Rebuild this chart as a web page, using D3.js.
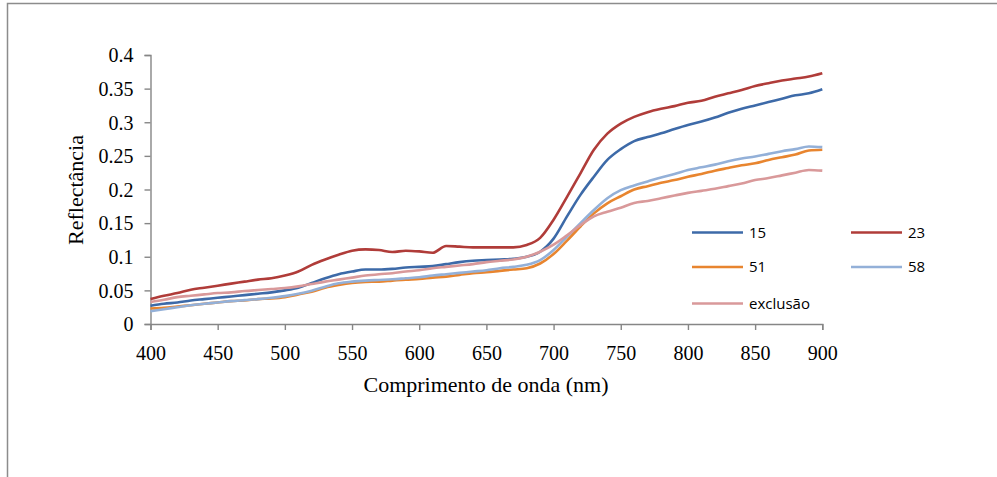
<!DOCTYPE html>
<html>
<head>
<meta charset="utf-8">
<script src="https://cdn.jsdelivr.net/npm/d3@7"></script>
<style>
  html, body { margin: 0; padding: 0; background: #fff; }
  svg { display: block; }
</style>
</head>
<body>
<div id="chart"></div>
<script>
// Reflectance spectra (400–900 nm, every 10 nm)

const wavelengths = d3.range(400, 901, 10);

const s15 = [0.027, 0.030, 0.032, 0.035, 0.037, 0.039, 0.041, 0.043, 0.045, 0.047,
  0.050, 0.054, 0.061, 0.068, 0.074, 0.078, 0.081, 0.081, 0.082, 0.084,
  0.085, 0.086, 0.089, 0.092, 0.094, 0.095, 0.096, 0.097, 0.100, 0.1075,
  0.127, 0.160, 0.192, 0.219, 0.244, 0.260, 0.272, 0.278, 0.2835, 0.290,
  0.296, 0.301, 0.307, 0.314, 0.320, 0.325, 0.330, 0.335, 0.340, 0.343, 0.349];

const s23 = [0.037, 0.042, 0.046, 0.051, 0.054, 0.057, 0.060, 0.063, 0.066, 0.068,
  0.072, 0.078, 0.088, 0.096, 0.103, 0.109, 0.111, 0.110, 0.107, 0.109,
  0.108, 0.106, 0.116, 0.115, 0.114, 0.114, 0.114, 0.114, 0.1175, 0.128,
  0.155, 0.189, 0.224, 0.259, 0.283, 0.298, 0.308, 0.315, 0.320, 0.324,
  0.329, 0.332, 0.338, 0.343, 0.348, 0.354, 0.358, 0.362, 0.365, 0.368, 0.373];

const s51 = [0.023, 0.024, 0.026, 0.028, 0.030, 0.032, 0.034, 0.035, 0.037, 0.038,
  0.040, 0.044, 0.048, 0.054, 0.058, 0.061, 0.0625, 0.063, 0.0645, 0.066,
  0.067, 0.069, 0.0705, 0.073, 0.0755, 0.077, 0.079, 0.081, 0.083, 0.090,
  0.104, 0.124, 0.145, 0.1645, 0.1795, 0.190, 0.200, 0.205, 0.210, 0.214,
  0.219, 0.223, 0.228, 0.232, 0.236, 0.239, 0.244, 0.248, 0.252, 0.258, 0.259];

const s58 = [0.019, 0.022, 0.025, 0.028, 0.030, 0.032, 0.034, 0.0355, 0.037, 0.039,
  0.0415, 0.045, 0.0495, 0.0555, 0.0605, 0.063, 0.0645, 0.0655, 0.0665, 0.068,
  0.0695, 0.072, 0.074, 0.076, 0.078, 0.080, 0.083, 0.085, 0.088, 0.095,
  0.110, 0.130, 0.150, 0.1695, 0.187, 0.199, 0.206, 0.212, 0.218, 0.223,
  0.229, 0.233, 0.237, 0.242, 0.246, 0.249, 0.253, 0.257, 0.260, 0.264, 0.263];

const sExclusao = [0.0327, 0.036, 0.040, 0.042, 0.044, 0.046, 0.047, 0.049, 0.0505, 0.052,
  0.0535, 0.056, 0.0595, 0.063, 0.066, 0.069, 0.072, 0.074, 0.0755, 0.078,
  0.080, 0.083, 0.085, 0.087, 0.089, 0.092, 0.094, 0.096, 0.100, 0.1075,
  0.118, 0.132, 0.147, 0.160, 0.167, 0.173, 0.180, 0.183, 0.187, 0.191,
  0.195, 0.198, 0.201, 0.205, 0.209, 0.214, 0.217, 0.221, 0.225, 0.229, 0.228];

const seriesNames = ["15", "23", "51", "58", "exclusão"];
const seriesValues = [s15, s23, s51, s58, sExclusao];
const seriesColors = ["#3d6aa8", "#b03c39", "#e8852f", "#93b0d8", "#d9999a"];

const xTicks = d3.range(400, 901, 50);
const yTicks = [0, 0.05, 0.1, 0.15, 0.2, 0.25, 0.3, 0.35, 0.4];

const width = 997, height = 477;
const axisColor = "#868686";

const svg = d3.select("#chart").append("svg")
    .attr("width", width)
    .attr("height", height);

// outer frame (top and left edges visible)
svg.append("path")
    .attr("d", `M7.5,${height} V3.5 H${width}`)
    .attr("fill", "none")
    .attr("stroke", "#8c8c8c")
    .attr("stroke-width", 1.5);

const x = d3.scaleLinear().domain([400, 900]).range([150.5, 822.3]);
const y = d3.scaleLinear().domain([0, 0.4]).range([324, 55]);

// y axis
const yAxis = svg.append("g")
    .attr("transform", `translate(${x(400)},0)`)
    .call(d3.axisLeft(y).tickValues(yTicks).tickSize(6).tickPadding(11)
        .tickFormat(d => d === 0 ? "0" : String(+d.toFixed(2))));

// x axis
const xAxis = svg.append("g")
    .attr("transform", `translate(0,${y(0)})`)
    .call(d3.axisBottom(x).tickValues(xTicks).tickSize(6).tickPadding(16));

[xAxis, yAxis].forEach(g => {
  g.select(".domain").attr("stroke", axisColor).attr("stroke-width", 1.4);
  g.selectAll(".tick line").attr("stroke", axisColor).attr("stroke-width", 1.4);
  g.selectAll(".tick text")
      .attr("fill", "#000")
      .style("font-family", "'Liberation Serif', 'Times New Roman', serif")
      .style("font-size", "20px");
});
yAxis.selectAll(".tick text").attr("dy", "0.34em");

// axis titles
svg.append("text")
    .attr("x", 486)
    .attr("y", 392)
    .attr("text-anchor", "middle")
    .style("font-family", "'Liberation Serif', 'Times New Roman', serif")
    .style("font-size", "22px")
    .text("Comprimento de onda (nm)");

svg.append("text")
    .attr("transform", "translate(83,190) rotate(-90)")
    .attr("text-anchor", "middle")
    .style("font-family", "'Liberation Serif', 'Times New Roman', serif")
    .style("font-size", "22px")
    .text("Reflectância");

// series lines
const line = d3.line()
    .x((d, i) => x(wavelengths[i]))
    .y(d => y(d))
    .curve(d3.curveMonotoneX);

svg.append("g").selectAll("path")
    .data(seriesValues)
    .join("path")
    .attr("d", d => line(d))
    .attr("fill", "none")
    .attr("stroke", (d, i) => seriesColors[i])
    .attr("stroke-width", 2.6)
    .attr("stroke-linejoin", "round");

// legend (two columns)
const legendCols = [692, 851];
const legendRows = [232.5, 267, 303.5];

const legend = svg.append("g").selectAll("g")
    .data(seriesNames)
    .join("g")
    .attr("transform", (d, i) => `translate(${legendCols[i % 2]},${legendRows[Math.floor(i / 2)]})`);

legend.append("line")
    .attr("x1", 0).attr("x2", 51)
    .attr("stroke", (d, i) => seriesColors[i])
    .attr("stroke-width", 2.6);

legend.append("text")
    .attr("x", 57)
    .attr("dy", "0.36em")
    .style("font-family", "'Open Sans', sans-serif")
    .style("font-size", "15px")
    .text(d => d);
</script>
</body>
</html>
